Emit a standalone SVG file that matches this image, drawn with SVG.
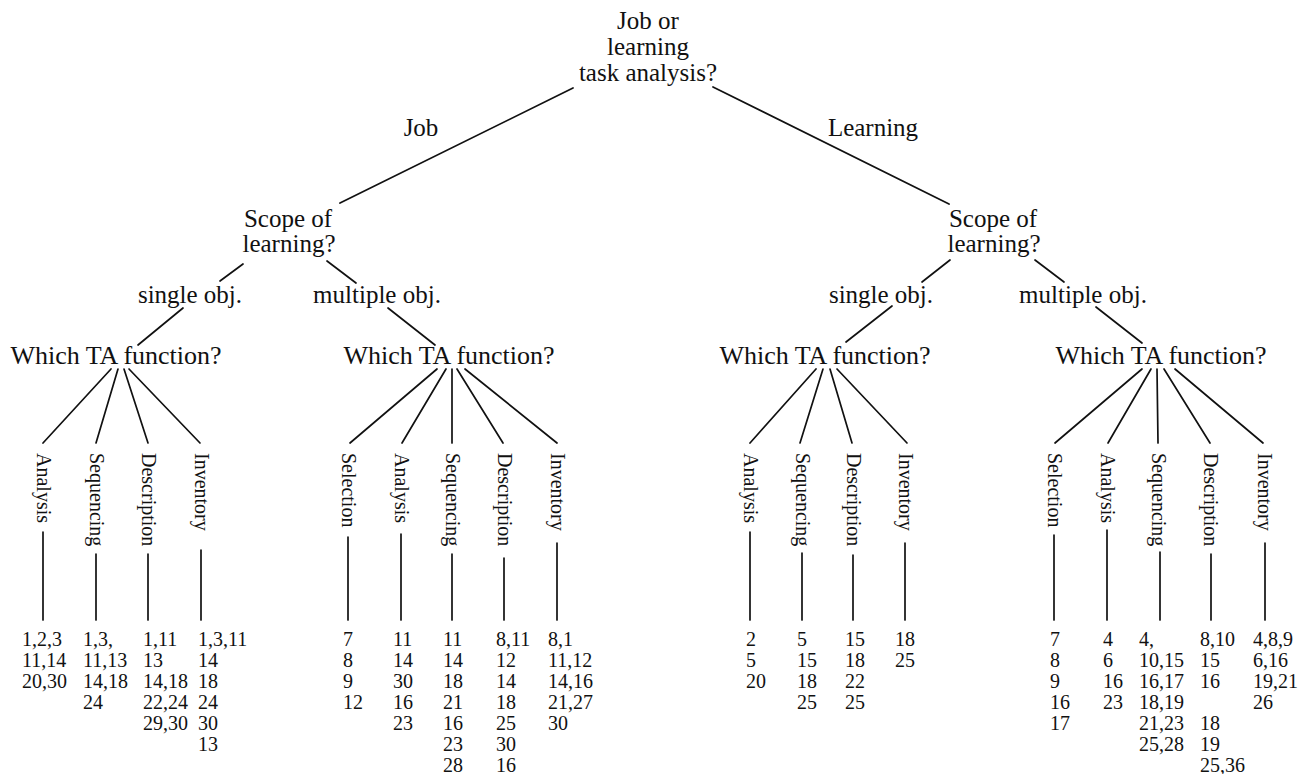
<svg xmlns="http://www.w3.org/2000/svg" width="1305" height="774" viewBox="0 0 1305 774">
  <style>
    text { font-family: "Liberation Serif", "Times New Roman", serif; fill: #111; }
    .q { font-size: 25px; text-anchor: middle; }
    .fn { font-size: 26px; text-anchor: middle; }
    .lab { font-size: 20px; }
    .num { font-size: 20px; }
    .conn line { stroke: #111; stroke-width: 1.7; stroke-linecap: round; }
  </style>
  <rect width="1305" height="774" fill="#fff"/>

  <!-- connectors -->
  <g id="connectors" class="conn">
    <!-- root to branches -->
    <line x1="573" y1="88" x2="340" y2="203"/>
    <line x1="713" y1="87" x2="949" y2="204"/>
    <!-- scope (job) to objectives -->
    <line x1="243" y1="264" x2="220" y2="281"/>
    <line x1="327" y1="261" x2="356" y2="283"/>
    <!-- scope (learning) to objectives -->
    <line x1="950" y1="260" x2="922" y2="282"/>
    <line x1="1035" y1="260" x2="1064" y2="282"/>
    <!-- objectives to function questions -->
    <line x1="183" y1="308" x2="138" y2="345"/>
    <line x1="388" y1="308" x2="435" y2="345"/>
    <line x1="892" y1="306" x2="846" y2="342"/>
    <line x1="1096" y1="307" x2="1142" y2="343"/>
    <!-- fan: job / single -->
    <line x1="111" y1="369" x2="43" y2="443"/>
    <line x1="118" y1="369" x2="96" y2="443"/>
    <line x1="124" y1="369" x2="148" y2="443"/>
    <line x1="129" y1="369" x2="200" y2="443"/>
    <!-- fan: job / multiple -->
    <line x1="437" y1="369" x2="350" y2="443"/>
    <line x1="446" y1="369" x2="402" y2="443"/>
    <line x1="452" y1="369" x2="452" y2="443"/>
    <line x1="457" y1="369" x2="503" y2="443"/>
    <line x1="465" y1="369" x2="557" y2="443"/>
    <!-- fan: learning / single -->
    <line x1="816" y1="369" x2="750" y2="443"/>
    <line x1="823" y1="369" x2="800" y2="443"/>
    <line x1="830" y1="369" x2="852" y2="443"/>
    <line x1="837" y1="369" x2="907" y2="443"/>
    <!-- fan: learning / multiple -->
    <line x1="1142" y1="369" x2="1055" y2="443"/>
    <line x1="1151" y1="369" x2="1108" y2="443"/>
    <line x1="1157" y1="369" x2="1158" y2="443"/>
    <line x1="1164" y1="369" x2="1210" y2="443"/>
    <line x1="1175" y1="369" x2="1263" y2="443"/>
    <!-- stems from function labels to reference lists -->
    <line x1="43" y1="532" x2="43" y2="620"/>
    <line x1="96" y1="554" x2="96" y2="620"/>
    <line x1="148" y1="554" x2="148" y2="620"/>
    <line x1="201" y1="550" x2="201" y2="620"/>
    <line x1="348" y1="537" x2="348" y2="620"/>
    <line x1="401" y1="534" x2="401" y2="620"/>
    <line x1="452" y1="554" x2="452" y2="620"/>
    <line x1="504" y1="558" x2="504" y2="620"/>
    <line x1="557" y1="543" x2="557" y2="620"/>
    <line x1="750" y1="532" x2="750" y2="620"/>
    <line x1="802" y1="553" x2="802" y2="620"/>
    <line x1="853" y1="555" x2="853" y2="620"/>
    <line x1="905" y1="543" x2="905" y2="620"/>
    <line x1="1054" y1="535" x2="1054" y2="620"/>
    <line x1="1107" y1="530" x2="1107" y2="620"/>
    <line x1="1160" y1="552" x2="1160" y2="620"/>
    <line x1="1211" y1="554" x2="1211" y2="620"/>
    <line x1="1265" y1="543" x2="1265" y2="620"/>
  </g>

  <!-- root question -->
  <g id="root">
    <text class="q" x="648" y="29">Job or</text>
    <text class="q" x="648" y="55">learning</text>
    <text class="q" x="648" y="81">task analysis?</text>
  </g>

  <!-- branch labels -->
  <g id="branch-job"><text class="q" x="421" y="136">Job</text></g>
  <g id="branch-learning"><text class="q" x="873" y="136">Learning</text></g>

  <!-- scope questions -->
  <g id="scope-job">
    <text class="q" x="288" y="227">Scope of</text>
    <text class="q" x="289" y="252">learning?</text>
  </g>
  <g id="scope-learning">
    <text class="q" x="993" y="227">Scope of</text>
    <text class="q" x="994" y="252">learning?</text>
  </g>

  <!-- objective counts -->
  <g id="job-single"><text class="q" x="190" y="303">single obj.</text></g>
  <g id="job-multiple"><text class="q" x="377" y="303">multiple obj.</text></g>
  <g id="learning-single"><text class="q" x="881" y="303">single obj.</text></g>
  <g id="learning-multiple"><text class="q" x="1083" y="303">multiple obj.</text></g>

  <!-- function questions -->
  <g id="fn-job-single"><text class="fn" x="116" y="364">Which TA function?</text></g>
  <g id="fn-job-multiple"><text class="fn" x="449" y="364">Which TA function?</text></g>
  <g id="fn-learning-single"><text class="fn" x="825" y="364">Which TA function?</text></g>
  <g id="fn-learning-multiple"><text class="fn" x="1161" y="364">Which TA function?</text></g>

  <!-- job / single objective functions -->
  <g id="js-analysis">
    <text class="lab" x="37" y="453" transform="rotate(90 37 453)">Analysis</text>
    <text class="num" x="22" y="645.5">1,2,3<tspan x="22" dy="21">11,14</tspan><tspan x="22" dy="21">20,30</tspan></text>
  </g>
  <g id="js-sequencing">
    <text class="lab" x="90" y="453" transform="rotate(90 90 453)">Sequencing</text>
    <text class="num" x="83" y="645.5">1,3,<tspan x="83" dy="21">11,13</tspan><tspan x="83" dy="21">14,18</tspan><tspan x="83" dy="21">24</tspan></text>
  </g>
  <g id="js-description">
    <text class="lab" x="142" y="453" transform="rotate(90 142 453)">Description</text>
    <text class="num" x="143" y="645.5">1,11<tspan x="143" dy="21">13</tspan><tspan x="143" dy="21">14,18</tspan><tspan x="143" dy="21">22,24</tspan><tspan x="143" dy="21">29,30</tspan></text>
  </g>
  <g id="js-inventory">
    <text class="lab" x="195" y="453" transform="rotate(90 195 453)">Inventory</text>
    <text class="num" x="198" y="645.5">1,3,11<tspan x="198" dy="21">14</tspan><tspan x="198" dy="21">18</tspan><tspan x="198" dy="21">24</tspan><tspan x="198" dy="21">30</tspan><tspan x="198" dy="21">13</tspan></text>
  </g>

  <!-- job / multiple objective functions -->
  <g id="jm-selection">
    <text class="lab" x="342" y="453" transform="rotate(90 342 453)">Selection</text>
    <text class="num" x="343" y="645.5">7<tspan x="343" dy="21">8</tspan><tspan x="343" dy="21">9</tspan><tspan x="343" dy="21">12</tspan></text>
  </g>
  <g id="jm-analysis">
    <text class="lab" x="395" y="453" transform="rotate(90 395 453)">Analysis</text>
    <text class="num" x="393" y="645.5">11<tspan x="393" dy="21">14</tspan><tspan x="393" dy="21">30</tspan><tspan x="393" dy="21">16</tspan><tspan x="393" dy="21">23</tspan></text>
  </g>
  <g id="jm-sequencing">
    <text class="lab" x="446" y="453" transform="rotate(90 446 453)">Sequencing</text>
    <text class="num" x="443" y="645.5">11<tspan x="443" dy="21">14</tspan><tspan x="443" dy="21">18</tspan><tspan x="443" dy="21">21</tspan><tspan x="443" dy="21">16</tspan><tspan x="443" dy="21">23</tspan><tspan x="443" dy="21">28</tspan></text>
  </g>
  <g id="jm-description">
    <text class="lab" x="498" y="453" transform="rotate(90 498 453)">Description</text>
    <text class="num" x="496" y="645.5">8,11<tspan x="496" dy="21">12</tspan><tspan x="496" dy="21">14</tspan><tspan x="496" dy="21">18</tspan><tspan x="496" dy="21">25</tspan><tspan x="496" dy="21">30</tspan><tspan x="496" dy="21">16</tspan></text>
  </g>
  <g id="jm-inventory">
    <text class="lab" x="551" y="453" transform="rotate(90 551 453)">Inventory</text>
    <text class="num" x="548" y="645.5">8,1<tspan x="548" dy="21">11,12</tspan><tspan x="548" dy="21">14,16</tspan><tspan x="548" dy="21">21,27</tspan><tspan x="548" dy="21">30</tspan></text>
  </g>

  <!-- learning / single objective functions -->
  <g id="ls-analysis">
    <text class="lab" x="744" y="453" transform="rotate(90 744 453)">Analysis</text>
    <text class="num" x="746" y="645.5">2<tspan x="746" dy="21">5</tspan><tspan x="746" dy="21">20</tspan></text>
  </g>
  <g id="ls-sequencing">
    <text class="lab" x="796" y="453" transform="rotate(90 796 453)">Sequencing</text>
    <text class="num" x="797" y="645.5">5<tspan x="797" dy="21">15</tspan><tspan x="797" dy="21">18</tspan><tspan x="797" dy="21">25</tspan></text>
  </g>
  <g id="ls-description">
    <text class="lab" x="847" y="453" transform="rotate(90 847 453)">Description</text>
    <text class="num" x="845" y="645.5">15<tspan x="845" dy="21">18</tspan><tspan x="845" dy="21">22</tspan><tspan x="845" dy="21">25</tspan></text>
  </g>
  <g id="ls-inventory">
    <text class="lab" x="899" y="453" transform="rotate(90 899 453)">Inventory</text>
    <text class="num" x="895" y="645.5">18<tspan x="895" dy="21">25</tspan></text>
  </g>

  <!-- learning / multiple objective functions -->
  <g id="lm-selection">
    <text class="lab" x="1048" y="453" transform="rotate(90 1048 453)">Selection</text>
    <text class="num" x="1050" y="645.5">7<tspan x="1050" dy="21">8</tspan><tspan x="1050" dy="21">9</tspan><tspan x="1050" dy="21">16</tspan><tspan x="1050" dy="21">17</tspan></text>
  </g>
  <g id="lm-analysis">
    <text class="lab" x="1101" y="453" transform="rotate(90 1101 453)">Analysis</text>
    <text class="num" x="1103" y="645.5">4<tspan x="1103" dy="21">6</tspan><tspan x="1103" dy="21">16</tspan><tspan x="1103" dy="21">23</tspan></text>
  </g>
  <g id="lm-sequencing">
    <text class="lab" x="1152" y="453" transform="rotate(90 1152 453)">Sequencing</text>
    <text class="num" x="1139" y="645.5">4,<tspan x="1139" dy="21">10,15</tspan><tspan x="1139" dy="21">16,17</tspan><tspan x="1139" dy="21">18,19</tspan><tspan x="1139" dy="21">21,23</tspan><tspan x="1139" dy="21">25,28</tspan></text>
  </g>
  <g id="lm-description">
    <text class="lab" x="1204" y="453" transform="rotate(90 1204 453)">Description</text>
    <text class="num" x="1200" y="645.5">8,10<tspan x="1200" dy="21">15</tspan><tspan x="1200" dy="21">16</tspan><tspan x="1200" dy="42">18</tspan><tspan x="1200" dy="21">19</tspan><tspan x="1200" dy="21">25,36</tspan></text>
  </g>
  <g id="lm-inventory">
    <text class="lab" x="1258" y="453" transform="rotate(90 1258 453)">Inventory</text>
    <text class="num" x="1253" y="645.5">4,8,9<tspan x="1253" dy="21">6,16</tspan><tspan x="1253" dy="21">19,21</tspan><tspan x="1253" dy="21">26</tspan></text>
  </g>
</svg>
